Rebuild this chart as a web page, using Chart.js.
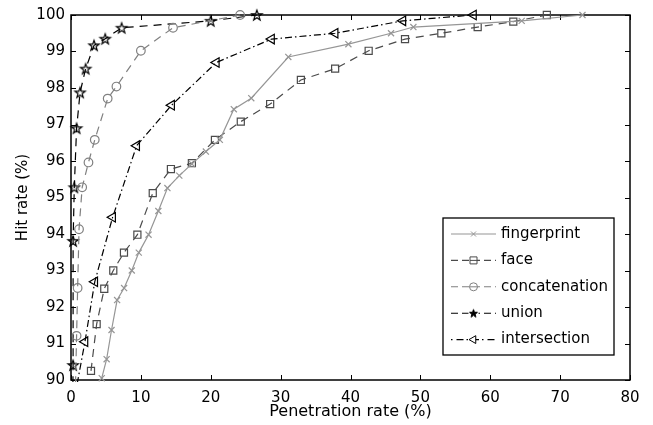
<!DOCTYPE html>
<html><head><meta charset="utf-8">
<script src="https://cdn.jsdelivr.net/npm/chart.js"></script>
<style>html,body{margin:0;padding:0;background:#fff}canvas{display:block}</style>
</head><body>
<canvas id="c" width="653" height="425"></canvas>
<script>
// ---- data ----
const seriesNames = ['fingerprint', 'face', 'concatenation', 'union', 'intersection'];

const fingerprintX = [4.4, 5.1, 5.8, 6.6, 7.6, 8.7, 9.7, 11.1, 12.5, 13.8, 15.5, 17.3, 19.3, 21.3, 23.3, 25.8, 31.1, 39.7, 45.8, 49.0, 64.5, 73.2];
const fingerprintY = [90.05, 90.57, 91.37, 92.19, 92.52, 93.0, 93.49, 93.98, 94.63, 95.26, 95.6, 95.92, 96.26, 96.58, 97.42, 97.72, 98.85, 99.2, 99.5, 99.67, 99.84, 100];

const faceX = [2.86, 3.67, 4.76, 6.05, 7.58, 9.5, 11.7, 14.3, 17.3, 20.6, 24.3, 28.5, 32.9, 37.8, 42.6, 47.8, 53.0, 58.2, 63.3, 68.1];
const faceY = [90.25, 91.53, 92.5, 93.0, 93.49, 93.98, 95.12, 95.78, 95.94, 96.58, 97.08, 97.56, 98.22, 98.53, 99.02, 99.34, 99.5, 99.67, 99.82, 100];

const concatX = [0.6, 0.8, 0.95, 1.15, 1.6, 2.5, 3.4, 5.25, 6.5, 10.0, 14.6, 24.2];
const concatY = [89.5, 91.21, 92.52, 94.13, 95.28, 95.96, 96.58, 97.71, 98.04, 99.02, 99.65, 100];

const unionX = [0.25, 0.3, 0.3, 0.47, 0.8, 1.3, 2.1, 3.3, 4.9, 7.25, 20.0, 26.6];
const unionY = [89.5, 90.41, 93.81, 95.28, 96.9, 97.88, 98.53, 99.17, 99.35, 99.65, 99.84, 100];

const interX = [0.5, 2.0, 3.4, 5.96, 9.4, 14.4, 20.8, 28.7, 37.8, 47.5, 57.6];
const interY = [89.5, 91.05, 92.69, 94.46, 96.42, 97.53, 98.70, 99.34, 99.5, 99.84, 100];

const xTicks = [0, 10, 20, 30, 40, 50, 60, 70, 80];
const yTicks = [90, 91, 92, 93, 94, 95, 96, 97, 98, 99, 100];
const xTitle = 'Penetration rate (%)';
const yTitle = 'Hit rate (%)';

// ---- helpers ----
function pts(xs, ys) { return xs.map((v, i) => ({ x: v, y: ys[i] })); }
function makeStar(r, fill, lw) {
  const s = Math.ceil(2 * r + 2 * lw + 2);
  const c = document.createElement('canvas'); c.width = s; c.height = s;
  const g = c.getContext('2d');
  const cx = s / 2, cy = s / 2 + r * 0.1;
  g.beginPath();
  for (let i = 0; i < 10; i++) {
    const a = -Math.PI / 2 + i * Math.PI / 5;
    const rr = (i % 2 === 0) ? r : r * 0.4;
    g.lineTo(cx + rr * Math.cos(a), cy + rr * Math.sin(a));
  }
  g.closePath();
  if (fill) { g.fillStyle = '#000'; g.fill(); }
  g.lineWidth = lw; g.strokeStyle = '#000'; g.stroke();
  return c;
}
const starPlot = makeStar(5.4, false, 1.2);
const starLegend = makeStar(4.2, true, 1);

const FONT = "'DejaVu Sans', sans-serif";
Chart.defaults.font.family = FONT;
Chart.defaults.color = '#000';

const styles = [
  { color: 'rgb(150,150,150)', dash: [], pointStyle: 'crossRot', radius: 4.3, rot: 0, lw: 1.2 },
  { color: 'rgb(75,75,75)', dash: [8, 6], pointStyle: 'rect', radius: 5, rot: 0, lw: 1.2 },
  { color: 'rgb(128,128,128)', dash: [8, 6], pointStyle: 'circle', radius: 4.3, rot: 0, lw: 1.2 },
  { color: 'rgb(0,0,0)', dash: [8, 6], pointStyle: starPlot, radius: 5.4, rot: 0, lw: 1.2 },
  { color: 'rgb(0,0,0)', dash: [7, 3, 1.5, 3], pointStyle: 'triangle', radius: 5.5, rot: -90, lw: 1.2 }
];
const seriesData = [pts(fingerprintX, fingerprintY), pts(faceX, faceY), pts(concatX, concatY), pts(unionX, unionY), pts(interX, interY)];

const datasets = seriesNames.map((n, i) => ({
  label: n,
  data: seriesData[i],
  showLine: true,
  borderColor: styles[i].color,
  borderWidth: styles[i].lw,
  borderDash: styles[i].dash,
  backgroundColor: 'rgba(0,0,0,0)',
  pointStyle: styles[i].pointStyle,
  pointRadius: styles[i].radius,
  pointRotation: styles[i].rot,
  pointBorderColor: styles[i].color,
  pointBackgroundColor: 'rgba(0,0,0,0)',
  pointBorderWidth: 1.2,
  tension: 0,
  clip: { left: 8, right: 8, top: 8, bottom: 2 }
}));

// axes box + inward ticks (MATLAB style)
const boxPlugin = {
  id: 'box',
  beforeDatasetsDraw(chart) {
    const { ctx, chartArea: a, scales: { x, y } } = chart;
    ctx.save();
    ctx.strokeStyle = '#000'; ctx.lineWidth = 1.5;
    ctx.strokeRect(a.left, a.top, a.right - a.left, a.bottom - a.top);
    ctx.lineWidth = 1;
    ctx.beginPath();
    const L = 5;
    x.ticks.forEach(t => {
      const p = Math.round(x.getPixelForValue(t.value)) + 0.5;
      ctx.moveTo(p, a.bottom); ctx.lineTo(p, a.bottom - L);
      ctx.moveTo(p, a.top); ctx.lineTo(p, a.top + L);
    });
    y.ticks.forEach(t => {
      const p = Math.round(y.getPixelForValue(t.value)) + 0.5;
      ctx.moveTo(a.left, p); ctx.lineTo(a.left + L, p);
      ctx.moveTo(a.right, p); ctx.lineTo(a.right - L, p);
    });
    ctx.stroke();
    ctx.restore();
  }
};

// legend inside the axes, MATLAB style (line sample + marker)
function legendMarker(ctx, i, cx, cy) {
  const s = styles[i];
  ctx.save();
  ctx.setLineDash([]);
  ctx.strokeStyle = s.color; ctx.lineWidth = 1;
  ctx.beginPath();
  if (i === 0) {
    const h = 2.5;
    ctx.moveTo(cx - h, cy - h); ctx.lineTo(cx + h, cy + h);
    ctx.moveTo(cx - h, cy + h); ctx.lineTo(cx + h, cy - h);
    ctx.stroke();
  } else if (i === 1) {
    ctx.fillStyle = '#fff';
    ctx.rect(cx - 3.5, cy - 3.5, 7, 7); ctx.fill(); ctx.stroke();
    ctx.beginPath(); ctx.moveTo(cx - 3.5, cy); ctx.lineTo(cx + 3.5, cy); ctx.stroke();
  } else if (i === 2) {
    ctx.fillStyle = '#fff';
    ctx.arc(cx, cy, 4, 0, Math.PI * 2); ctx.fill(); ctx.stroke();
    ctx.beginPath(); ctx.moveTo(cx - 4, cy); ctx.lineTo(cx + 4, cy); ctx.stroke();
  } else if (i === 3) {
    ctx.fillStyle = '#fff'; ctx.fillRect(cx - 5, cy - 5, 10, 10);
    ctx.drawImage(starLegend, cx - starLegend.width / 2, cy - starLegend.height / 2);
  } else {
    ctx.fillStyle = '#fff';
    const r = 4.5;
    ctx.moveTo(cx - r, cy); ctx.lineTo(cx + r * 0.5, cy - r * 0.87); ctx.lineTo(cx + r * 0.5, cy + r * 0.87); ctx.closePath();
    ctx.fill(); ctx.stroke();
  }
  ctx.restore();
}
const legendPlugin = {
  id: 'mlegend',
  afterDatasetsDraw(chart) {
    const { ctx, chartArea: a } = chart;
    const right = a.right - 16, bottom = a.bottom - 25;
    const w = 171, h = 137;
    const left = right - w, top = bottom - h;
    ctx.save();
    ctx.fillStyle = '#fff'; ctx.fillRect(left, top, w, h);
    ctx.strokeStyle = '#000'; ctx.lineWidth = 1.3; ctx.strokeRect(left, top, w, h);
    ctx.font = '15px ' + FONT; ctx.textBaseline = 'middle'; ctx.textAlign = 'left';
    seriesNames.forEach((n, i) => {
      const cy = top + 16 + i * 26.4;
      const x0 = left + 8, x1 = left + 53, cx = (x0 + x1) / 2;
      ctx.save();
      ctx.strokeStyle = styles[i].color; ctx.lineWidth = 1.1;
      ctx.setLineDash(styles[i].dash.length ? (i === 4 ? [1.5, 4, 7, 3] : [7, 4]) : []);
      ctx.beginPath(); ctx.moveTo(x0, cy); ctx.lineTo(x1, cy); ctx.stroke();
      ctx.restore();
      legendMarker(ctx, i, cx, cy);
      ctx.fillStyle = '#000';
      ctx.fillText(n, left + 58, cy);
    });
    ctx.restore();
  }
};

new Chart(document.getElementById('c'), {
  type: 'scatter',
  data: { datasets },
  options: {
    responsive: false,
    animation: false,
    layout: { padding: { left: 0, top: 14, right: 23, bottom: 0 } },
    plugins: { legend: { display: false }, tooltip: { enabled: false } },
    scales: {
      x: {
        type: 'linear', min: xTicks[0], max: xTicks[xTicks.length - 1],
        afterBuildTicks: s => { s.ticks = xTicks.map(v => ({ value: v })); },
        afterFit: s => { s.height = 45; },
        grid: { display: false, drawTicks: false },
        border: { display: false },
        ticks: { font: { size: 15 }, padding: 9, color: '#000', maxRotation: 0 },
        title: { display: true, text: xTitle, font: { size: 16 }, padding: { top: 0, bottom: 4 }, color: '#000' }
      },
      y: {
        type: 'linear', min: yTicks[0], max: yTicks[yTicks.length - 1],
        afterBuildTicks: s => { s.ticks = yTicks.map(v => ({ value: v })); },
        afterFit: s => { s.width = 71; },
        grid: { display: false, drawTicks: false },
        border: { display: false },
        ticks: { font: { size: 15 }, padding: 6, color: '#000' },
        title: { display: true, text: yTitle, font: { size: 15 }, padding: { top: 14, bottom: 0 }, color: '#000' }
      }
    }
  },
  plugins: [boxPlugin, legendPlugin]
});
</script>
</body></html>
